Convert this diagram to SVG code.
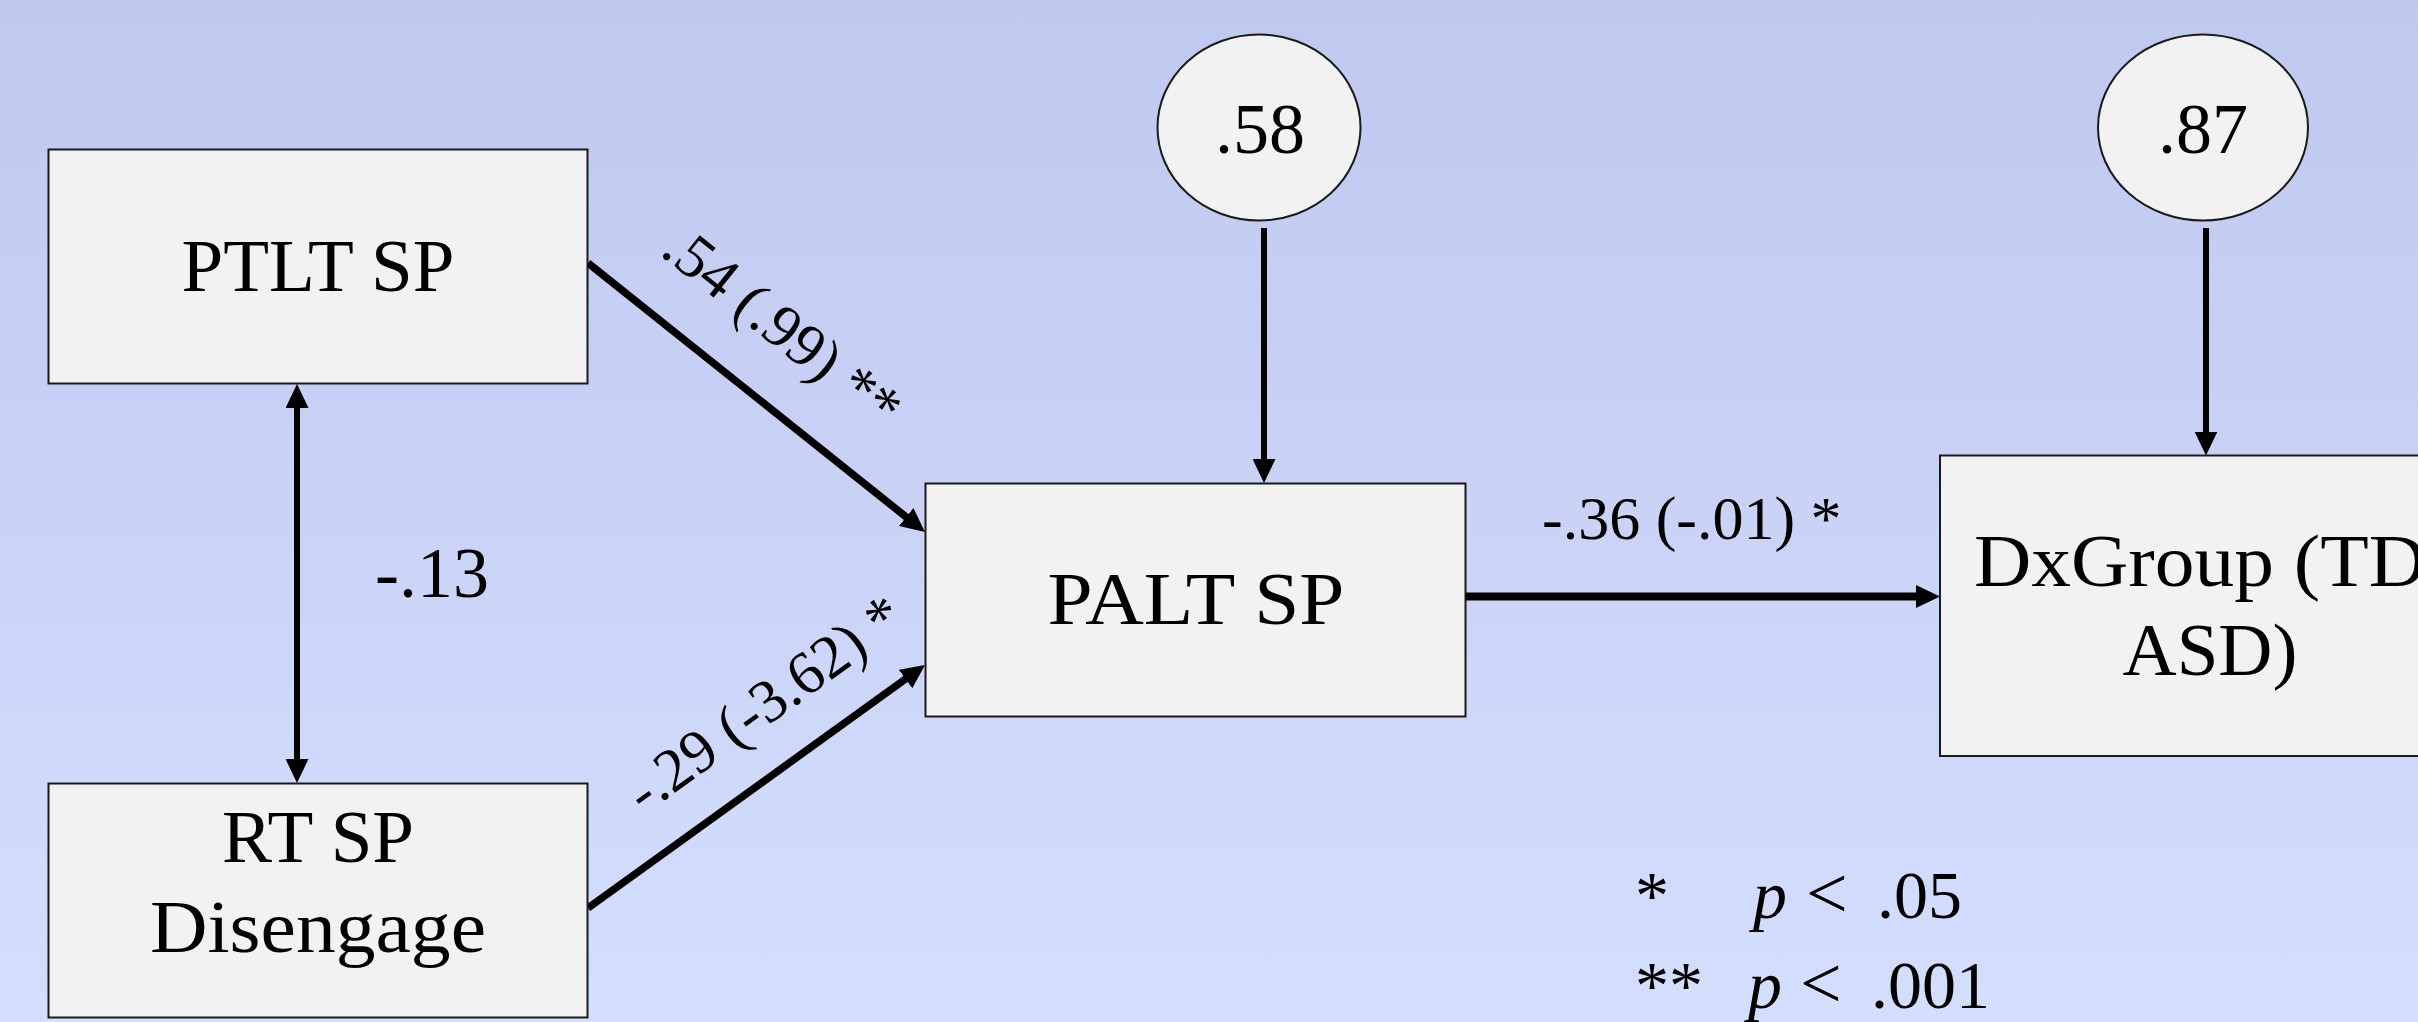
<svg xmlns="http://www.w3.org/2000/svg" width="2418" height="1022" viewBox="0 0 2418 1022">
<style>
.box{fill:#f2f2f2;stroke:#1a1a1a;stroke-width:2}
.t{font-family:"Liberation Serif","Times New Roman",serif;fill:#000}
.n{font-size:75px;text-anchor:middle}
.e{font-size:72px;text-anchor:middle}
.l{font-size:61px}
.g{font-size:68px}
.c{stroke:#000;fill:none}
</style>
<defs>
<linearGradient id="bg" x1="0" y1="0" x2="0" y2="1">
<stop offset="0" stop-color="#bfc8ef"/>
<stop offset="1" stop-color="#d4defd"/>
</linearGradient>
<marker id="ah" markerUnits="userSpaceOnUse" markerWidth="24" markerHeight="23" refX="6" refY="11.5" orient="auto-start-reverse" viewBox="0 0 24 23">
<path d="M0,0 L24,11.5 L0,23 z" fill="#000"/>
</marker>
</defs>
<rect width="2418" height="1022" fill="url(#bg)"/>

<g id="connectors">
<line class="c" x1="588" y1="263" x2="910.9" y2="520.8" stroke-width="7.5" marker-end="url(#ah)"/>
<line class="c" x1="588" y1="908" x2="910.4" y2="675.5" stroke-width="7.5" marker-end="url(#ah)"/>
<line class="c" x1="1466" y1="596.5" x2="1922" y2="596.5" stroke-width="8" marker-end="url(#ah)"/>
<line class="c" x1="1264" y1="228" x2="1264" y2="465" stroke-width="6" marker-end="url(#ah)"/>
<line class="c" x1="2206" y1="228" x2="2206" y2="437.5" stroke-width="6" marker-end="url(#ah)"/>
<line class="c" x1="297" y1="402" x2="297" y2="765" stroke-width="6" marker-start="url(#ah)" marker-end="url(#ah)"/>
<text class="t l" transform="translate(659,254) rotate(38.6)">.54 (.99) **</text>
<text class="t l" transform="translate(644,815) rotate(-35.8)">-.29 (-3.62) *</text>
<text class="t" font-size="62" x="1542" y="539">-.36 (-.01) *</text>
<text class="t" font-size="72" x="375" y="597">-.13</text>
</g>

<g id="node-ptlt">
<rect class="box" x="48.5" y="149.5" width="539" height="234"/>
<text class="t n" x="318" y="291">PTLT SP</text>
</g>

<g id="node-rt">
<rect class="box" x="48.5" y="783.5" width="539" height="234"/>
<text class="t n" x="318" y="862">RT SP</text>
<text class="t n" x="318" y="952" textLength="336" lengthAdjust="spacingAndGlyphs">Disengage</text>
</g>

<g id="node-palt">
<rect class="box" x="925.5" y="483.5" width="540" height="233"/>
<text class="t n" x="1196" y="624" textLength="297" lengthAdjust="spacingAndGlyphs">PALT SP</text>
</g>

<g id="node-dx">
<rect class="box" x="1940" y="455.5" width="540" height="300.5"/>
<text class="t" font-size="75" x="1974" y="586" textLength="452" lengthAdjust="spacingAndGlyphs">DxGroup (TD</text>
<text class="t n" x="2210" y="675">ASD)</text>
</g>

<g id="node-e1">
<ellipse class="box" cx="1259" cy="127.5" rx="101.5" ry="93"/>
<text class="t e" x="1260" y="153">.58</text>
</g>

<g id="node-e2">
<ellipse class="box" cx="2203" cy="127.5" rx="105" ry="93"/>
<text class="t e" x="2203" y="153">.87</text>
</g>

<g id="legend">
<text class="t g" x="1635" y="918">*</text>
<text class="t g" y="918"><tspan x="1753" font-style="italic">p</tspan><tspan x="1806" font-size="74">&lt;</tspan><tspan x="1877">.05</tspan></text>
<text class="t g" x="1635" y="1008">**</text>
<text class="t g" y="1008"><tspan x="1748" font-style="italic">p</tspan><tspan x="1800" font-size="74">&lt;</tspan><tspan x="1871">.001</tspan></text>
</g>
</svg>
